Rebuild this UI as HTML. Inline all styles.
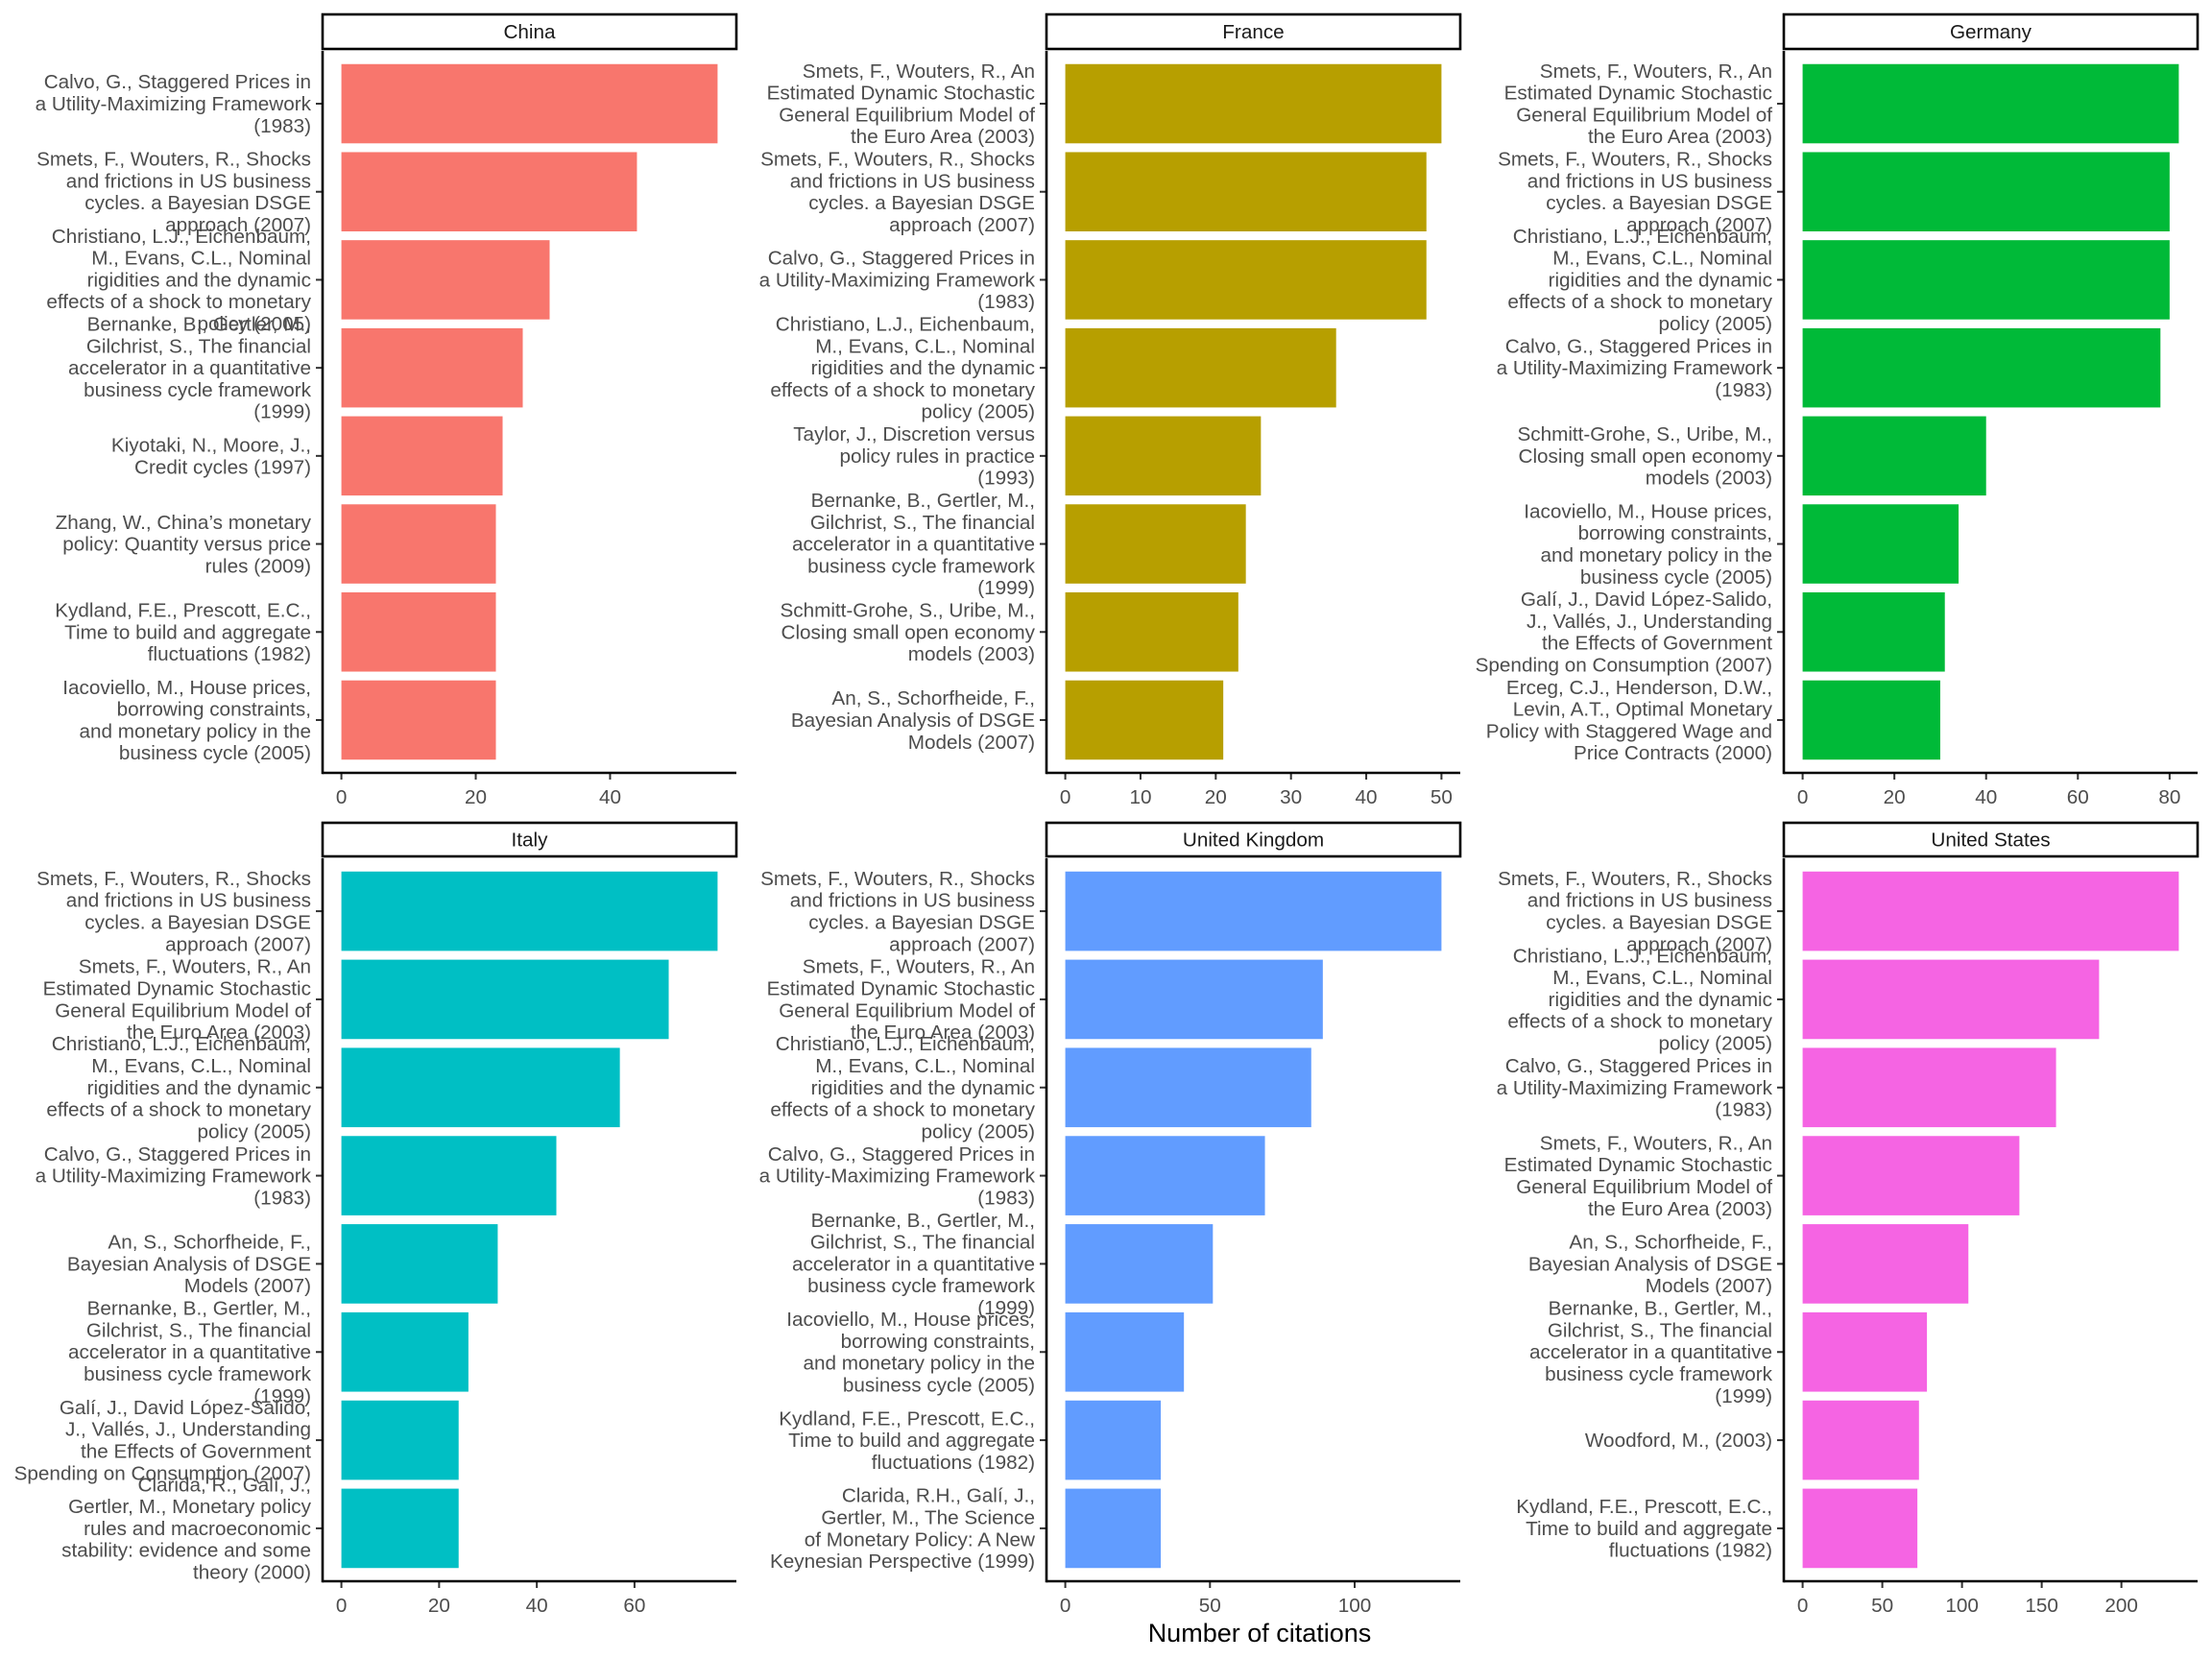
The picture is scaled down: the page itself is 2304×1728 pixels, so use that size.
<!DOCTYPE html>
<html><head><meta charset="utf-8"><style>
html,body{margin:0;padding:0;background:#fff}
svg{display:block;font-family:"Liberation Sans",Arial,sans-serif}
</style></head><body>
<svg id="chart" width="2304" height="1728" viewBox="0 0 2304 1728" xmlns="http://www.w3.org/2000/svg"></svg>
<script>
const L = {
  calvo:"Calvo, G., Staggered Prices in|a Utility-Maximizing Framework|(1983)",
  shocks:"Smets, F., Wouters, R., Shocks|and frictions in US business|cycles. a Bayesian DSGE|approach (2007)",
  christ:"Christiano, L.J., Eichenbaum,|M., Evans, C.L., Nominal|rigidities and the dynamic|effects of a shock to monetary|policy (2005)",
  bern:"Bernanke, B., Gertler, M.,|Gilchrist, S., The financial|accelerator in a quantitative|business cycle framework|(1999)",
  kiyo:"Kiyotaki, N., Moore, J.,|Credit cycles (1997)",
  zhang:"Zhang, W., China’s monetary|policy: Quantity versus price|rules (2009)",
  kyd:"Kydland, F.E., Prescott, E.C.,|Time to build and aggregate|fluctuations (1982)",
  iaco:"Iacoviello, M., House prices,|borrowing constraints,|and monetary policy in the|business cycle (2005)",
  smetsAn:"Smets, F., Wouters, R., An|Estimated Dynamic Stochastic|General Equilibrium Model of|the Euro Area (2003)",
  taylor:"Taylor, J., Discretion versus|policy rules in practice|(1993)",
  schmitt:"Schmitt-Grohe, S., Uribe, M.,|Closing small open economy|models (2003)",
  an:"An, S., Schorfheide, F.,|Bayesian Analysis of DSGE|Models (2007)",
  gali:"Galí, J., David López-Salido,|J., Vallés, J., Understanding|the Effects of Government|Spending on Consumption (2007)",
  erceg:"Erceg, C.J., Henderson, D.W.,|Levin, A.T., Optimal Monetary|Policy with Staggered Wage and|Price Contracts (2000)",
  clarida:"Clarida, R., Galí, J.,|Gertler, M., Monetary policy|rules and macroeconomic|stability: evidence and some|theory (2000)",
  clarida2:"Clarida, R.H., Galí, J.,|Gertler, M., The Science|of Monetary Policy: A New|Keynesian Perspective (1999)",
  woodford:"Woodford, M., (2003)"
};
const countries = ["China","France","Germany","Italy","United Kingdom","United States"];
const colors = ["#F8766D","#B79F00","#00BA38","#00BFC4","#619CFF","#F564E3"];
const chinaCats = [L.calvo,L.shocks,L.christ,L.bern,L.kiyo,L.zhang,L.kyd,L.iaco];
const chinaVals = [56,44,31,27,24,23,23,23];
const chinaTicks = [0,20,40];
const franceCats = [L.smetsAn,L.shocks,L.calvo,L.christ,L.taylor,L.bern,L.schmitt,L.an];
const franceVals = [50,48,48,36,26,24,23,21];
const franceTicks = [0,10,20,30,40,50];
const germanyCats = [L.smetsAn,L.shocks,L.christ,L.calvo,L.schmitt,L.iaco,L.gali,L.erceg];
const germanyVals = [82,80,80,78,40,34,31,30];
const germanyTicks = [0,20,40,60,80];
const italyCats = [L.shocks,L.smetsAn,L.christ,L.calvo,L.an,L.bern,L.gali,L.clarida];
const italyVals = [77,67,57,44,32,26,24,24];
const italyTicks = [0,20,40,60];
const ukCats = [L.shocks,L.smetsAn,L.christ,L.calvo,L.bern,L.iaco,L.kyd,L.clarida2];
const ukVals = [130,89,85,69,51,41,33,33];
const ukTicks = [0,50,100];
const usCats = [L.shocks,L.christ,L.calvo,L.smetsAn,L.an,L.bern,L.woodford,L.kyd];
const usVals = [236,186,159,136,104,78,73,72];
const usTicks = [0,50,100,150,200];

const allCats=[chinaCats,franceCats,germanyCats,italyCats,ukCats,usCats];
const allVals=[chinaVals,franceVals,germanyVals,italyVals,ukVals,usVals];
const allTicks=[chinaTicks,franceTicks,germanyTicks,italyTicks,ukTicks,usTicks];

const NS="http://www.w3.org/2000/svg";
const svg=document.getElementById('chart');
function mk(tag,attrs,parent){const e=document.createElementNS(NS,tag);for(const k in attrs)e.setAttribute(k,attrs[k]);(parent||svg).appendChild(e);return e;}
const colX=[[336,767],[1090,1521],[1858,2289]];
const rowY=[[15,53,805],[857,894,1647]];
const LH=22.8;
const FS=20.7;
for(let p=0;p<6;p++){
  const c=p%3,r=Math.floor(p/3);
  const [x0,x1]=colX[c];const [sTop,pTop,pBot]=rowY[r];
  const g=mk('g',{});
  
  
  const strip=mk('rect',{x:x0,y:sTop,width:x1-x0,height:pTop-sTop-2,fill:'#fff',stroke:'#000','stroke-width':2.6},g);
  
  
  const st=mk('text',{x:(x0+x1)/2,y:(sTop+pTop)/2+6,'text-anchor':'middle','font-size':FS,fill:'#1a1a1a'},g);
  st.textContent=countries[p];
  
  
  const vals=allVals[p],cats=allCats[p],ticks=allTicks[p];
  const max=Math.max(...vals);
  const xs=v=>x0+(v+0.05*max)/(1.1*max)*(x1-x0);
  const u=(pBot-pTop)/(cats.length+0.2);
  const ys=i=>pTop+(0.6+i)*u;
  vals.forEach((v,i)=>{
    const b=mk('rect',{x:xs(0),y:ys(i)-0.45*u,width:xs(v)-xs(0),height:0.9*u,fill:colors[p]},g);
    
    
    mk('line',{x1:x0-7,x2:x0,y1:ys(i),y2:ys(i),stroke:'#333','stroke-width':2},g);
    const lines=cats[i].split('|');
    const t=mk('text',{'text-anchor':'end','font-size':FS,fill:'#4d4d4d'},g);
    
    
    lines.forEach((ln,k)=>{const ts=mk('tspan',{x:x0-12,y:ys(i)-(lines.length-1)/2*LH+7+k*LH},t);ts.textContent=ln;});
  });
  ticks.forEach(tv=>{
    mk('line',{x1:xs(tv),x2:xs(tv),y1:pBot,y2:pBot+7,stroke:'#333','stroke-width':2},g);
    const tt=mk('text',{x:xs(tv),y:pBot+32,'text-anchor':'middle','font-size':FS,fill:'#4d4d4d'},g);
    tt.textContent=tv;
    
    
  });
  mk('line',{x1:x0,x2:x0,y1:pTop,y2:pBot+1.3,stroke:'#000','stroke-width':2.6},g);
  mk('line',{x1:x0,x2:x1,y1:pBot,y2:pBot,stroke:'#000','stroke-width':2.6},g);
}
const xt=mk('text',{x:1312,y:1710,'text-anchor':'middle','font-size':27,fill:'#000'});
xt.textContent='Number of citations';


</script>
</body></html>
